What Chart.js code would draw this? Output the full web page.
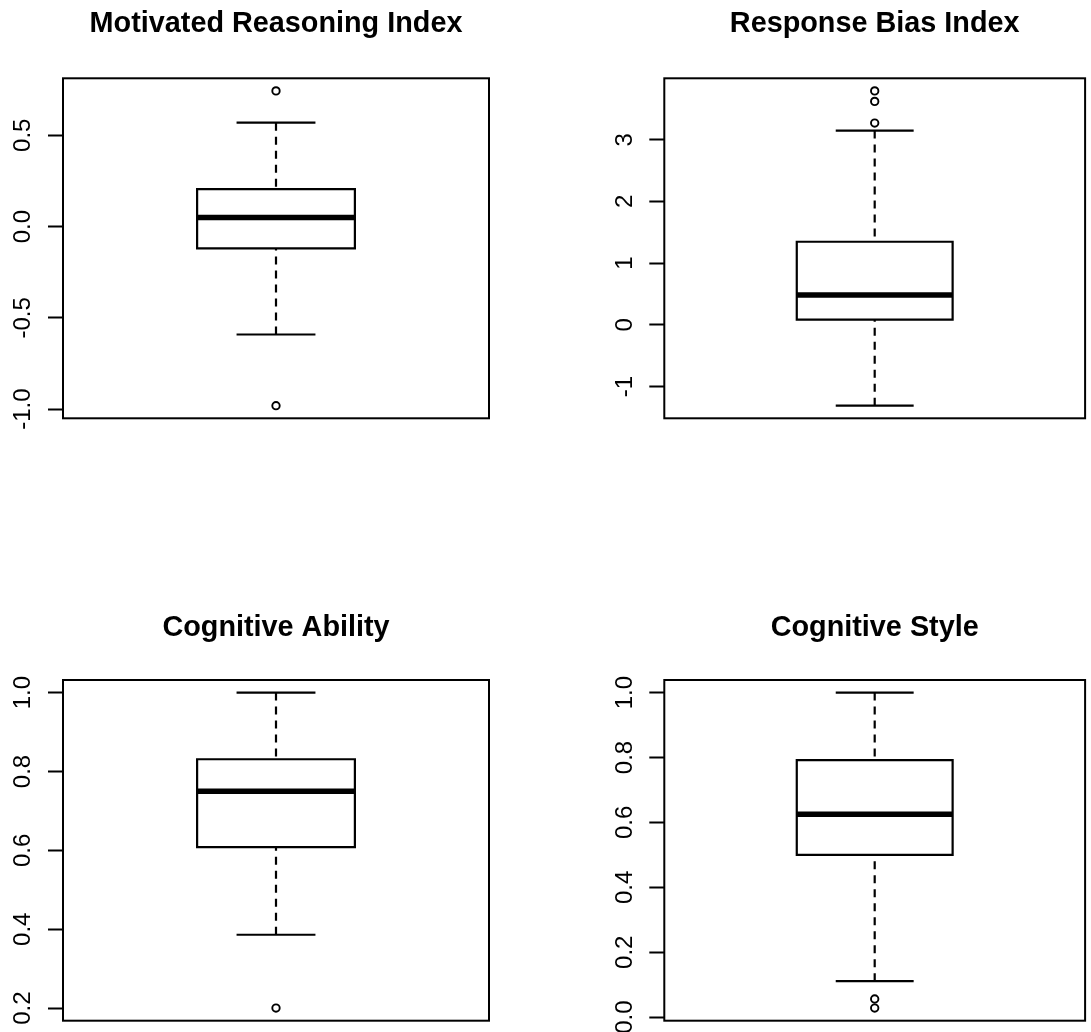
<!DOCTYPE html>
<html>
<head>
<meta charset="utf-8">
<title>Boxplots</title>
<script src="https://cdn.jsdelivr.net/npm/chart.js@4.4.1/dist/chart.umd.min.js"></script>
<style>
  html, body { margin: 0; padding: 0; background: #ffffff; }
  #page { position: relative; width: 1091px; height: 1032px; overflow: hidden; background: #ffffff; }
  #page canvas { position: absolute; }
</style>
</head>
<body>
<div id="page"></div>
<script>
// ---- Data: one box per variable ----
const panelTitles = ['Motivated Reasoning Index', 'Response Bias Index', 'Cognitive Ability', 'Cognitive Style'];
const lowerWhisker = [-0.591, -1.310, 0.386, 0.111];
const lowerHinge   = [-0.119,  0.086, 0.608, 0.500];
const medians      = [ 0.049,  0.485, 0.750, 0.625];
const upperHinge   = [ 0.205,  1.347, 0.831, 0.792];
const upperWhisker = [ 0.569,  3.148, 1.000, 1.000];
const outliers     = [[0.743, -0.981], [3.270, 3.621, 3.791], [0.200], [0.056, 0.028]];

// ---- Y axis ticks ----
const tickValues = [[-1.0, -0.5, 0.0, 0.5], [-1, 0, 1, 2, 3], [0.2, 0.4, 0.6, 0.8, 1.0], [0.0, 0.2, 0.4, 0.6, 0.8, 1.0]];
const tickLabels = [['-1.0', '-0.5', '0.0', '0.5'], ['-1', '0', '1', '2', '3'], ['0.2', '0.4', '0.6', '0.8', '1.0'], ['0.0', '0.2', '0.4', '0.6', '0.8', '1.0']];

// ---- Page layout (pixels): canvas box and plot region inside each canvas ----
const panels = [
  { x: 0,   y: 0,   w: 545, h: 516, plot: { left: 63,    right: 489,   top: 78.3, bottom: 418.3 }, titleMid: 24.2 },
  { x: 545, y: 0,   w: 546, h: 516, plot: { left: 119.3, right: 545.3, top: 78.3, bottom: 418.3 }, titleMid: 24.2 },
  { x: 0,   y: 516, w: 545, h: 516, plot: { left: 63,    right: 489,   top: 164,  bottom: 504.7 }, titleMid: 111.7 },
  { x: 545, y: 516, w: 546, h: 516, plot: { left: 119.3, right: 545.3, top: 164,  bottom: 504.7 }, titleMid: 111.7 }
];

// Box geometry in x-axis units (box centred at 1, axis padded 4% beyond [0.5, 1.5])
const CENTER = 1;
const BOX_HALF = 0.2;
const CAP_HALF = 0.1;
const X_MIN = 0.5 - 0.04;
const X_MAX = 1.5 + 0.04;

const FAMILY = "'Liberation Sans', Arial, Helvetica, sans-serif";
const TICK_SIZE = 24;
const TITLE_SIZE = 28.8;
const TITLE_LINE = 1.2;
const TICK_LEN = 15;
const LABEL_OFFSET = 39.2;   // distance from axis line to the anchor of the tick labels

const measureCtx = document.createElement('canvas').getContext('2d');
function widestLabel(labels) {
  measureCtx.font = TICK_SIZE + 'px ' + FAMILY;
  return Math.max(...labels.map(s => measureCtx.measureText(s).width));
}

// Plot frame around the plotting region
const framePlugin = {
  id: 'frame',
  afterDraw(chart) {
    const a = chart.chartArea;
    const ctx = chart.ctx;
    ctx.save();
    ctx.strokeStyle = '#000';
    ctx.lineWidth = 2;
    ctx.strokeRect(a.left, a.top, a.right - a.left, a.bottom - a.top);
    ctx.restore();
  }
};

function segment(x0, y0, x1, y1) {
  return [{ x: x0, y: y0 }, { x: x1, y: y1 }];
}

const page = document.getElementById('page');

panels.forEach((p, i) => {
  const canvas = document.createElement('canvas');
  canvas.width = p.w;
  canvas.height = p.h;
  canvas.style.left = p.x + 'px';
  canvas.style.top = p.y + 'px';
  canvas.style.width = p.w + 'px';
  canvas.style.height = p.h + 'px';
  page.appendChild(canvas);

  // y range: data extremes padded by 4% on each side
  const lo = Math.min(lowerWhisker[i], ...outliers[i]);
  const hi = Math.max(upperWhisker[i], ...outliers[i]);
  const ext = 0.04 * (hi - lo);

  const tickPad = LABEL_OFFSET - TICK_LEN - widestLabel(tickLabels[i]) / 2;
  const halfLine = TITLE_SIZE * TITLE_LINE / 2;

  const line = {
    showLine: true,
    pointRadius: 0,
    borderColor: '#000',
    backgroundColor: '#000',
    borderWidth: 2.2,
    fill: false,
    clip: false
  };

  new Chart(canvas, {
    type: 'scatter',
    data: {
      datasets: [
        {
          label: 'outliers',
          data: outliers[i].map(v => ({ x: CENTER, y: v })),
          showLine: false,
          pointRadius: 3.7,
          pointBorderWidth: 1.9,
          pointBorderColor: '#000',
          pointBackgroundColor: 'rgba(0,0,0,0)',
          clip: false
        },
        Object.assign({}, line, {
          label: 'median',
          borderWidth: 5.5,
          data: segment(CENTER - BOX_HALF, medians[i], CENTER + BOX_HALF, medians[i])
        }),
        Object.assign({}, line, {
          label: 'box',
          borderJoinStyle: 'miter',
          data: [
            { x: CENTER - BOX_HALF, y: lowerHinge[i] },
            { x: CENTER + BOX_HALF, y: lowerHinge[i] },
            { x: CENTER + BOX_HALF, y: upperHinge[i] },
            { x: CENTER - BOX_HALF, y: upperHinge[i] },
            { x: CENTER - BOX_HALF, y: lowerHinge[i] },
            { x: CENTER + BOX_HALF, y: lowerHinge[i] }
          ]
        }),
        Object.assign({}, line, {
          label: 'upper whisker',
          borderDash: [8, 6],
          data: segment(CENTER, upperWhisker[i], CENTER, upperHinge[i])
        }),
        Object.assign({}, line, {
          label: 'lower whisker',
          borderDash: [8, 6],
          data: segment(CENTER, lowerWhisker[i], CENTER, lowerHinge[i])
        }),
        Object.assign({}, line, {
          label: 'upper staple',
          data: segment(CENTER - CAP_HALF, upperWhisker[i], CENTER + CAP_HALF, upperWhisker[i])
        }),
        Object.assign({}, line, {
          label: 'lower staple',
          data: segment(CENTER - CAP_HALF, lowerWhisker[i], CENTER + CAP_HALF, lowerWhisker[i])
        })
      ]
    },
    options: {
      responsive: false,
      devicePixelRatio: 1,
      animation: false,
      events: [],
      layout: {
        padding: { left: 0, top: 0, right: p.w - p.plot.right, bottom: p.h - p.plot.bottom }
      },
      plugins: {
        legend: { display: false },
        tooltip: { enabled: false },
        title: {
          display: true,
          text: panelTitles[i],
          color: '#000',
          fullSize: false,
          font: { family: FAMILY, size: TITLE_SIZE, weight: 'bold', lineHeight: TITLE_LINE },
          padding: { top: p.titleMid - halfLine, bottom: p.plot.top - p.titleMid - halfLine }
        }
      },
      scales: {
        x: {
          type: 'linear',
          display: false,
          min: X_MIN,
          max: X_MAX
        },
        y: {
          type: 'linear',
          position: 'left',
          min: lo - ext,
          max: hi + ext,
          afterBuildTicks(scale) {
            scale.ticks = tickValues[i].map(v => ({ value: v }));
          },
          afterFit(scale) {
            scale.width = p.plot.left;
            scale.paddingTop = 0;
            scale.paddingBottom = 0;
          },
          border: { display: false },
          grid: {
            display: true,
            drawOnChartArea: false,
            drawTicks: true,
            tickLength: TICK_LEN,
            tickWidth: 2,
            tickColor: '#000'
          },
          ticks: {
            color: '#000',
            font: { family: FAMILY, size: TICK_SIZE },
            minRotation: 90,
            maxRotation: 90,
            crossAlign: 'center',
            padding: tickPad,
            autoSkip: false,
            callback: (value, index) => tickLabels[i][index]
          }
        }
      }
    },
    plugins: [framePlugin]
  });
});
</script>
</body>
</html>
